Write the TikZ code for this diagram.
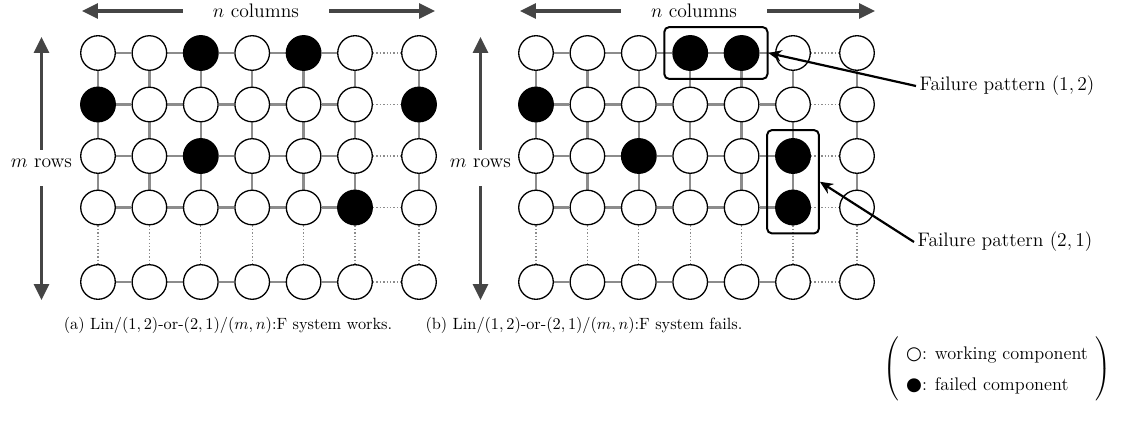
\documentclass[tikz,border=0pt]{standalone}
\usepackage{amsmath}
\usepackage{fontspec}
\newfontfamily\dvs{DejaVu Sans}
\usetikzlibrary{arrows.meta,backgrounds,fit}
\definecolor{edgegray}{HTML}{8C8C8C}
\definecolor{arrowgray}{HTML}{454545}
\tikzset{
 comp/.style={circle,draw=black,line width=0.8pt,minimum size=21.2pt,inner sep=0pt,fill=white},
 ok/.style={comp},
 bad/.style={comp,fill=black},
 link/.style={draw=edgegray,line width=1.4pt},
 dlink/.style={draw=edgegray,line width=0.8pt,dash pattern=on 0.8pt off 1.3pt},
 bigarrow/.style={draw=arrowgray,line width=1.85pt,-{Triangle[length=9.8pt,width=9.2pt]}},
 callout/.style={draw=black,line width=1.35pt,-{Stealth[length=8pt,width=7pt]}},
 patbox/.style={draw=black,line width=1.2pt,rounded corners=3pt,inner sep=4.9pt},
 lbl/.style={font=\large},
 captext/.style={font=\normalsize},
 legtext/.style={font=\fontsize{11.2}{13.5}\selectfont},
}
\begin{document}
\begin{tikzpicture}[x=0.6135pt,y=-0.6135pt]
\useasboundingbox (0,0) rectangle (1122,434);
% left grid
\foreach \r/\y/\sty in {1/53/{ok,ok,bad,ok,bad,ok,ok},2/104.5/{bad,ok,ok,ok,ok,ok,bad},3/156/{ok,ok,bad,ok,ok,ok,ok},4/207.5/{ok,ok,ok,ok,ok,bad,ok},5/282/{ok,ok,ok,ok,ok,ok,ok}}{
  \foreach \s [count=\c] in \sty {
    \pgfmathsetmacro\xx{{98,149.4,200.8,252.2,303.6,355,419}[\c-1]}
    \node[\s] (L-\r-\c) at (\xx,\y) {};
  }
}
% right grid
\foreach \r/\y/\sty in {1/53/{ok,ok,ok,bad,bad,ok,ok},2/104.5/{bad,ok,ok,ok,ok,ok,ok},3/156/{ok,ok,bad,ok,ok,bad,ok},4/207.5/{ok,ok,ok,ok,ok,bad,ok},5/282/{ok,ok,ok,ok,ok,ok,ok}}{
  \foreach \s [count=\c] in \sty {
    \pgfmathsetmacro\xx{{536,587.4,638.8,690.2,741.6,793,857}[\c-1]}
    \node[\s] (R-\r-\c) at (\xx,\y) {};
  }
}
\begin{pgfonlayer}{background}
\foreach \g in {L,R}{
  \foreach \r in {1,...,5}{
    \foreach \c [evaluate=\c as \n using int(\c+1)] in {1,...,5}{\draw[link] (\g-\r-\c) -- (\g-\r-\n);}
    \draw[dlink] (\g-\r-6) -- (\g-\r-7);
  }
  \foreach \c in {1,...,7}{
    \foreach \r [evaluate=\r as \n using int(\r+1)] in {1,2,3}{\draw[link] (\g-\r-\c) -- (\g-\n-\c);}
    \draw[dlink] (\g-4-\c) -- (\g-5-\c);
  }
}
\end{pgfonlayer}
% pattern boxes
\node[patbox,fit=(R-1-4)(R-1-5)] (box1) {};
\node[patbox,fit=(R-3-6)(R-4-6)] (box2) {};
\node[lbl,anchor=west,inner sep=2pt] (fp12) at (916,86) {Failure pattern $(1,2)$};
\node[lbl,anchor=west,inner sep=2pt] (fp21) at (914,242) {Failure pattern $(2,1)$};
\draw[callout] (fp12.west) -- (box1.east);
\draw[callout] (fp21.west) -- (box2.east);
% column arrows
\node[lbl,inner xsep=18.4pt] (ncL) at (256,11) {$n$ columns};
\coordinate (ncLa) at (82,11); \coordinate (ncLb) at (435,11);
\draw[bigarrow] (ncL) -- (ncLa); \draw[bigarrow] (ncL) -- (ncLb);
\node[lbl,inner xsep=18.4pt] (ncR) at (694,11) {$n$ columns};
\coordinate (ncRa) at (520,11); \coordinate (ncRb) at (875,11);
\draw[bigarrow] (ncR) -- (ncRa); \draw[bigarrow] (ncR) -- (ncRb);
% row arrows
\node[lbl,inner sep=0pt,text height=10.55pt,text depth=11.5pt,anchor=base] (mrL) at (41.5,167.2) {$m$ rows};
\coordinate (mrLa) at (41.5,37); \coordinate (mrLb) at (41.5,300);
\draw[bigarrow] (mrL) -- (mrLa); \draw[bigarrow] (mrL) -- (mrLb);
\node[lbl,inner sep=0pt,text height=10.55pt,text depth=11.5pt,anchor=base] (mrR) at (480.5,167.2) {$m$ rows};
\coordinate (mrRa) at (480.5,37); \coordinate (mrRb) at (480.5,300);
\draw[bigarrow] (mrR) -- (mrRa); \draw[bigarrow] (mrR) -- (mrRb);
% captions
\node[captext] (capa) at (228,325) {(a) Lin/$(1,2)$-or-$(2,1)$/$(m,n)$:F system works.};
\node[captext] (capb) at (584,325) {(b) Lin/$(1,2)$-or-$(2,1)$/$(m,n)$:F system fails.};
% legend
\node[legtext] (legend) at (997,369) {\renewcommand\arraystretch{1.4}$\left(\hspace{0.4em}\begin{array}{@{}l@{}}\text{{\dvs ○}: working component}\\ \text{{\dvs ●}: failed component}\end{array}\hspace{0.4em}\right)$};
\end{tikzpicture}
\end{document}
